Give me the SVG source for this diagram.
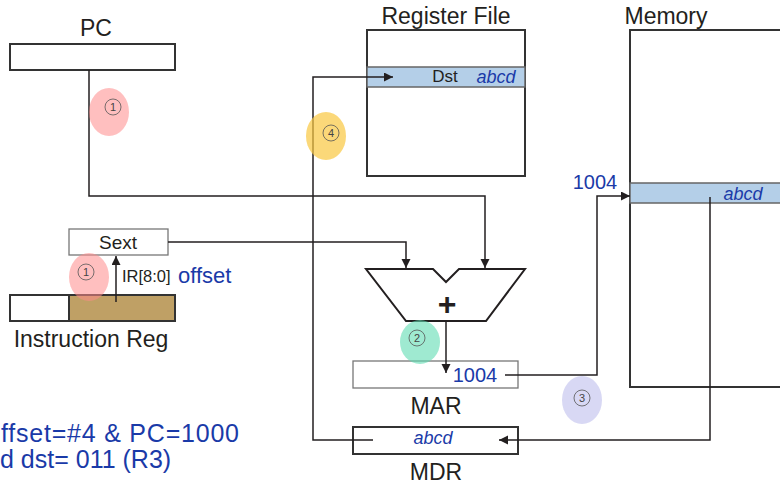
<svg xmlns="http://www.w3.org/2000/svg" width="780" height="487" viewBox="0 0 780 487">
<defs>
<style>
text{font-family:"Liberation Sans",Arial,sans-serif;}
.t{fill:#231f20;font-size:23px;text-anchor:middle;}
.blue{fill:#1a3aa8;}
.it{font-style:italic;}
.box{fill:#fff;stroke:#333;stroke-width:2;}
.thin{fill:#fff;stroke:#777;stroke-width:1.3;}
.band{fill:#b4cfe8;stroke:#666;stroke-width:1.5;}
.wire{fill:none;stroke:#231f20;stroke-width:1.5;}
.num{fill:none;stroke:#555;stroke-width:0.8;}
.numt{fill:#444;font-size:11px;text-anchor:middle;}
</style>
<marker id="ah" markerUnits="userSpaceOnUse" markerWidth="10" markerHeight="10" refX="9" refY="4.5" orient="auto">
<path d="M0,0 L9,4.5 L0,9 z" fill="#231f20"/>
</marker>
</defs>
<rect width="780" height="487" fill="#fff"/>

<g id="pc">
<text class="t" x="96" y="36">PC</text>
<rect class="box" x="10" y="44" width="165" height="26"/>
</g>

<g id="register-file">
<text class="t" x="446" y="24">Register File</text>
<rect class="box" x="367" y="30" width="158" height="146"/>
<rect class="band" x="367" y="67" width="158" height="20"/>
<text x="445" y="82" style="font-size:17px;fill:#231f20;text-anchor:middle">Dst</text>
<text class="blue it" x="496" y="83" style="font-size:18px;text-anchor:middle">abcd</text>
</g>

<g id="memory">
<text class="t" x="666" y="24">Memory</text>
<rect class="box" x="630" y="30" width="160" height="357"/>
<rect class="band" x="630" y="183" width="160" height="20"/>
<text class="blue it" x="743" y="200" style="font-size:18px;text-anchor:middle">abcd</text>
<text class="blue" x="595" y="189" style="font-size:20px;text-anchor:middle">1004</text>
</g>

<g id="sext">
<rect class="thin" x="69" y="229" width="99" height="26"/>
<text x="118" y="249" style="font-size:19px;fill:#231f20;text-anchor:middle">Sext</text>
</g>

<g id="instruction-reg">
<rect class="box" x="10" y="295" width="59" height="26"/>
<rect x="69" y="295" width="106" height="26" fill="#bfa065" stroke="#333" stroke-width="2"/>
<text class="t" x="91" y="347">Instruction Reg</text>
<text x="122" y="282" style="font-size:16.5px;fill:#231f20">IR[8:0]</text>
<text class="blue" x="178" y="283" style="font-size:22px">offset</text>
</g>

<g id="alu">
<path d="M366,269 H433 L446,282 L459,269 H525 L486,321 H406 Z" fill="#fff" stroke="#231f20" stroke-width="2"/>
<text x="447" y="315" style="font-size:32px;font-weight:bold;fill:#231f20;text-anchor:middle">+</text>
</g>

<g id="mar">
<rect class="thin" x="353" y="361" width="165" height="27"/>
<text class="blue" x="475" y="382" style="font-size:20px;text-anchor:middle">1004</text>
<text class="t" x="436" y="414">MAR</text>
</g>

<g id="mdr">
<rect class="box" x="353" y="427" width="165" height="27"/>
<text class="blue it" x="433" y="444" style="font-size:18px;text-anchor:middle">abcd</text>
<text class="t" x="436" y="480">MDR</text>
</g>

<g id="connectors">
<path class="wire" d="M89,70 V196 H485 V268" marker-end="url(#ah)"/>
<path class="wire" d="M168,242 H406 V268" marker-end="url(#ah)"/>
<path class="wire" d="M446,321 V373" marker-end="url(#ah)"/>
<path class="wire" d="M505,375 H597 V196 H630" marker-end="url(#ah)"/>
<path class="wire" d="M710,197 V440 H499" marker-end="url(#ah)"/>
<path class="wire" d="M373,440 H313 V77 H393" marker-end="url(#ah)"/>
<path class="wire" d="M116,302 V256" marker-end="url(#ah)"/>
</g>

<g id="step-markers">
<ellipse cx="109" cy="112" rx="20" ry="24" fill="#ff8a8a" opacity="0.55"/>
<circle class="num" cx="113" cy="107" r="8"/>
<text class="numt" x="113" y="111">1</text>
<ellipse cx="89" cy="277" rx="20" ry="24" fill="#ff8a8a" opacity="0.55"/>
<circle class="num" cx="86" cy="272" r="8"/>
<text class="numt" x="86" y="276">1</text>
<ellipse cx="420" cy="342" rx="20" ry="22" fill="#5fdcb2" opacity="0.6"/>
<circle class="num" cx="417" cy="338" r="8"/>
<text class="numt" x="417" y="342">2</text>
<ellipse cx="582" cy="400" rx="20" ry="24" fill="#c8c8f0" opacity="0.7"/>
<circle class="num" cx="582" cy="398" r="8"/>
<text class="numt" x="582" y="402">3</text>
<ellipse cx="326" cy="136" rx="20" ry="24" fill="#f9c840" opacity="0.7"/>
<circle class="num" cx="331" cy="133" r="8"/>
<text class="numt" x="331" y="137">4</text>
</g>

<g id="notes">
<text class="blue" x="1" y="442" style="font-size:25px" textLength="238" lengthAdjust="spacing">ffset=#4 &amp; PC=1000</text>
<text class="blue" x="0" y="468" style="font-size:25px">d dst= 011 (R3)</text>
</g>
</svg>
